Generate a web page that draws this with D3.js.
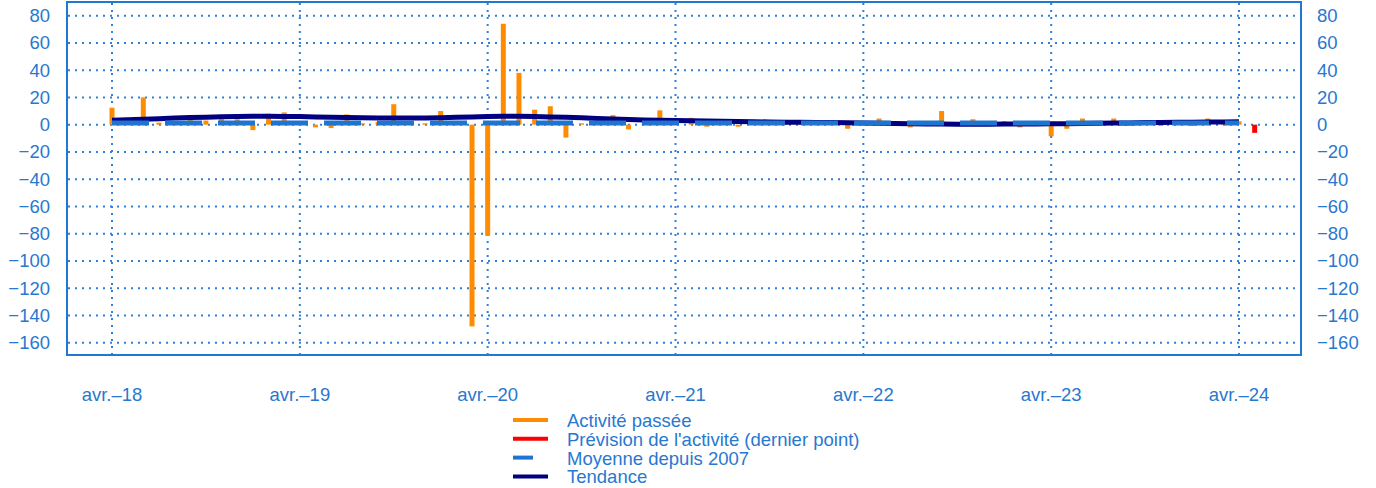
<!DOCTYPE html>
<head>
    <meta charset="utf-8">
    <title>Activité passée et tendance</title>
    <script src="https://d3js.org/d3.v7.min.js"></script>
    <style>
        body { margin: 0; background: #fff; }
        svg { display: block; font-family: "Liberation Sans", Arial, sans-serif; }
    </style>
</head>
<body>
    <svg></svg>
</body>

<script>
    // Monthly values, April 2018 (index 0) to April 2024 (index 72)
    var activity = [
        12.5, 1, 20, 1.5, 0.5, 7, 3, 4, 4, -4, 8, 9,
        2, -2, -2.5, 7.5, 1, 2, 15, 2, 1, 10, 2, -148,
        -81.5, 74, 38, 11, 13.5, -9.5, 1, 2, 7, -3.5, 1, 10.5,
        2, 5, -1.5, 1, -1.5, 1, 1, 3.5, 2.5, 3, 1, -3,
        1, 4.5, -0.5, -2, 1, 10, 1, 4, 1, 2.5, -2, 1,
        -8.5, -3, 4.5, 1, 4.5, 1, 1, -1, 1, -1, 4.5, 1,
        2.5
    ];
    var forecast = [{ month: 73, value: -6 }];
    var trend = [
        3.2, 3.6, 4.0, 4.4, 4.8, 5.2, 5.5, 5.8, 6.0, 6.1, 6.1, 6.0,
        5.9, 5.7, 5.5, 5.3, 5.1, 4.9, 4.8, 4.8, 4.9, 5.1, 5.4, 5.7,
        6.0, 6.1, 6.1, 5.9, 5.7, 5.4, 5.0, 4.6, 4.2, 3.8, 3.5, 3.3,
        3.1, 2.9, 2.7, 2.5, 2.3, 2.1, 2.0, 1.8, 1.7, 1.6, 1.5, 1.4,
        1.2, 1.0, 0.8, 0.6, 0.5, 0.4, 0.3, 0.3, 0.3, 0.4, 0.5, 0.5,
        0.6, 0.7, 0.9, 1.0, 1.2, 1.3, 1.5, 1.6, 1.7, 1.8, 1.9, 2.0,
        2.1
    ];
    var meanSince2007 = 1.3;
    var xTickMonths = [0, 12, 24, 36, 48, 60, 72];
    var xTickLabels = ['avr.\u201318', 'avr.\u201319', 'avr.\u201320', 'avr.\u201321', 'avr.\u201322', 'avr.\u201323', 'avr.\u201324'];
    var yTicks = [80, 60, 40, 20, 0, -20, -40, -60, -80, -100, -120, -140, -160];
    var legendItems = [
        { label: 'Activité passée', color: '#ff8c00', len: 35 },
        { label: "Prévision de l'activité (dernier point)", color: '#ff0000', len: 35 },
        { label: 'Moyenne depuis 2007', color: '#1f74cf', len: 20 },
        { label: 'Tendance', color: '#000080', len: 35 }
    ];

    var vWidth = 1376, vHeight = 488;
    var textColor = '#2878d0';
    var fontSize = '18.5px';
    var frame = { left: 67, right: 1301, top: 2, bottom: 355 };

    var svg = d3.select('svg').attr('width', vWidth).attr('height', vHeight);

    var x = d3.scaleLinear().domain([-2.875, 75.96]).range([frame.left, frame.right]);
    var y = d3.scaleLinear().domain([-169, 90]).range([frame.bottom, frame.top]);
    var fmt = d3.format('d');

    // Dotted grid
    var grid = svg.append('g')
        .attr('stroke', '#2f80d6').attr('stroke-width', 2).attr('stroke-dasharray', '2,5');
    grid.selectAll('line.h').data(yTicks).enter().append('line')
        .attr('x1', frame.left + 1).attr('x2', frame.right)
        .attr('y1', function (d) { return y(d); }).attr('y2', function (d) { return y(d); });
    grid.selectAll('line.v').data(xTickMonths).enter().append('line')
        .attr('x1', function (d) { return x(d); }).attr('x2', function (d) { return x(d); })
        .attr('y1', frame.top + 1).attr('y2', frame.bottom);

    // Bars
    svg.append('g').selectAll('rect').data(activity).enter().append('rect')
        .attr('x', function (d, i) { return x(i) - 2.5; })
        .attr('width', 5)
        .attr('y', function (d) { return y(Math.max(0, d)); })
        .attr('height', function (d) { return Math.abs(y(d) - y(0)); })
        .attr('fill', '#ff8c00');

    svg.append('g').selectAll('rect').data(forecast).enter().append('rect')
        .attr('x', function (d) { return x(d.month) - 2.5; })
        .attr('width', 5)
        .attr('y', function (d) { return y(Math.max(0, d.value)); })
        .attr('height', function (d) { return Math.abs(y(d.value) - y(0)); })
        .attr('fill', '#ff0000');

    // Trend
    var line = d3.line()
        .x(function (d, i) { return x(i); })
        .y(function (d) { return y(d); });
    svg.append('path').datum(trend)
        .attr('d', line)
        .attr('fill', 'none').attr('stroke', '#000080').attr('stroke-width', 5);

    // Mean since 2007 (dashed)
    svg.append('line')
        .attr('x1', x(0)).attr('x2', x(activity.length - 1))
        .attr('y1', y(meanSince2007)).attr('y2', y(meanSince2007))
        .attr('stroke', '#1f74cf').attr('stroke-width', 5)
        .attr('stroke-dasharray', '37,16');

    // Frame
    svg.append('rect')
        .attr('x', frame.left).attr('y', frame.top)
        .attr('width', frame.right - frame.left).attr('height', frame.bottom - frame.top)
        .attr('fill', 'none').attr('stroke', '#1f78d1').attr('stroke-width', 2);

    // Y labels, both sides
    var labels = svg.append('g').attr('fill', textColor).attr('font-size', fontSize);
    labels.selectAll('text.l').data(yTicks).enter().append('text')
        .attr('x', 50).attr('y', function (d) { return y(d); }).attr('dy', '0.35em')
        .attr('text-anchor', 'end')
        .text(function (d) { return fmt(d); });
    labels.selectAll('text.r').data(yTicks).enter().append('text')
        .attr('x', 1317).attr('y', function (d) { return y(d); }).attr('dy', '0.35em')
        .attr('text-anchor', 'start')
        .text(function (d) { return fmt(d); });

    // X labels
    labels.selectAll('text.x').data(xTickMonths).enter().append('text')
        .attr('x', function (d) { return x(d); }).attr('y', 401)
        .attr('text-anchor', 'middle')
        .text(function (d, i) { return xTickLabels[i]; });

    // Legend
    var legend = svg.append('g').attr('transform', 'translate(513,420)');
    var rows = legend.selectAll('g').data(legendItems).enter().append('g')
        .attr('transform', function (d, i) { return 'translate(0,' + (i * 18.8) + ')'; });
    rows.append('line')
        .attr('x1', 0).attr('x2', function (d) { return d.len; })
        .attr('stroke', function (d) { return d.color; }).attr('stroke-width', 4);
    rows.append('text')
        .attr('x', 54).attr('dy', '0.38em')
        .attr('fill', textColor).attr('font-size', fontSize)
        .text(function (d) { return d.label; });
</script>
